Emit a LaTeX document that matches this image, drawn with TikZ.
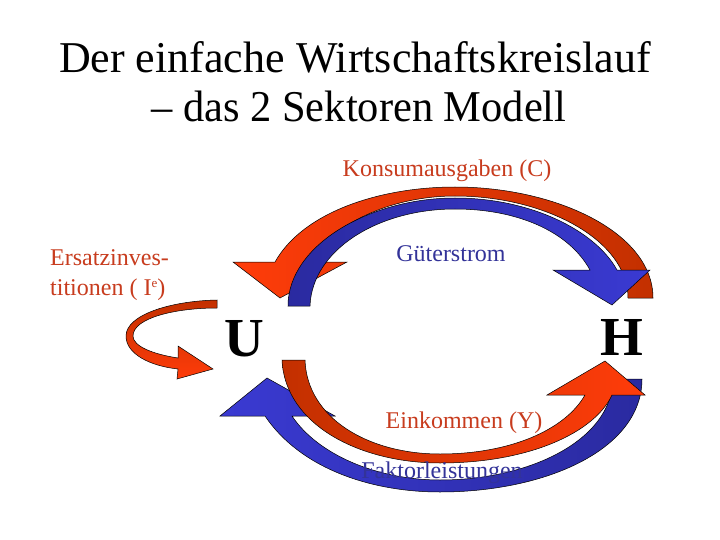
\documentclass[tikz,border=0pt]{standalone}
\usepackage{fontspec}
\setmainfont{Liberation Serif}
\definecolor{redtxt}{RGB}{200,60,30}
\definecolor{bluetxt}{RGB}{51,51,153}
\definecolor{redbright}{RGB}{255,60,10}
\definecolor{reddark}{RGB}{195,48,0}
\definecolor{bluebright}{RGB}{58,58,210}
\definecolor{bluedark}{RGB}{42,42,160}
\begin{document}
\begin{tikzpicture}[x=1pt,y=-1pt,
  band/.style={draw=black, line width=0.5pt, line join=miter},
  lbl/.style={inner sep=0pt, anchor=base, font=\fontsize{24}{24}\selectfont},
  ttl/.style={inner sep=0pt, anchor=base, font=\fontsize{44}{44}\selectfont},
  big/.style={inner sep=0pt, anchor=base, font=\fontsize{55}{55}\selectfont\bfseries}]
\useasboundingbox (0,0) rectangle (720,540);
\fill[white] (0,0) rectangle (720,540);

% title
\node[ttl] (t1) at (355,73) {Der einfache Wirtschaftskreislauf};
\node[ttl] (t2) at (359,122) {\scalebox{0.965}[1]{– das 2 Sektoren Modell}};

% top red arrow (Konsumausgaben)
\path[band, left color=redbright, right color=reddark]
 (275,262) .. controls (303,212) and (380,187) .. (455,187)
 .. controls (555,187) and (653,232) .. (653,298)
 -- (628,298)
 .. controls (628,240) and (545,196) .. (455,196)
 .. controls (390,196) and (330,225) .. (312,262)
 -- (347,262) -- (280,298) -- (233,262) -- cycle;

% top blue arrow (Gueterstrom)
\path[band, left color=bluedark, right color=bluebright]
 (288,306) .. controls (288,245) and (370,198) .. (455,198)
 .. controls (530,198) and (595,230) .. (617,270)
 -- (650,270) -- (612,305) -- (553,270) -- (590,270)
 .. controls (568,230) and (515,209) .. (455,209)
 .. controls (378,209) and (312,250) .. (310,306) -- cycle;

% bottom blue arrow (Faktorleistungen)
\path[band, left color=bluebright, right color=bluedark]
 (265,416) .. controls (300,468) and (370,492) .. (440,492)
 .. controls (545,492) and (642,450) .. (642,379)
 -- (613,379)
 .. controls (612,440) and (530,480) .. (440,480)
 .. controls (378,480) and (318,455) .. (292,416)
 -- (335,416) -- (267,378) -- (220,416) -- cycle;

% bottom red arrow (Einkommen)
\path[band, left color=reddark, right color=redbright]
 (282,360) .. controls (285,425) and (360,463) .. (440,463)
 .. controls (530,463) and (595,432) .. (612,395)
 -- (645,395) -- (605,361) -- (547,395) -- (585,395)
 .. controls (565,430) and (510,454) .. (440,454)
 .. controls (368,454) and (307,418) .. (305,360) -- cycle;

% small red arrow (Ersatzinvestitionen)
\path[band, top color=reddark, bottom color=redbright]
 (217,300) .. controls (170,301) and (126,315) .. (126,336)
 .. controls (126,354) and (150,366) .. (178,369)
 -- (177,379) -- (213,369) -- (178,346) -- (178,358)
 .. controls (152,354) and (133,346) .. (133,336)
 .. controls (133,318) and (175,308) .. (217,308) -- cycle;

% labels
\node[lbl, text=redtxt] (konsum) at (447,177) {Konsumausgaben (C)};
\node[lbl, text=bluetxt] (gueter) at (451,261) {Güterstrom};
\node[lbl, text=redtxt, anchor=base west] (ersatz1) at (50,265) {Ersatzinves-};
\node[lbl, text=redtxt, anchor=base west] (ersatz2) at (50,295) {titionen ( I\raisebox{8pt}{\fontsize{13}{13}\selectfont e})};
\node[big] (U) at (244,356) {U};
\node[big] (H) at (622,355) {H};
\node[lbl, text=redtxt] (eink) at (464,428) {Einkommen (Y)};
\node[lbl, text=bluetxt] (faktor) at (442,478) {Faktorleistungen};
\end{tikzpicture}
\end{document}
